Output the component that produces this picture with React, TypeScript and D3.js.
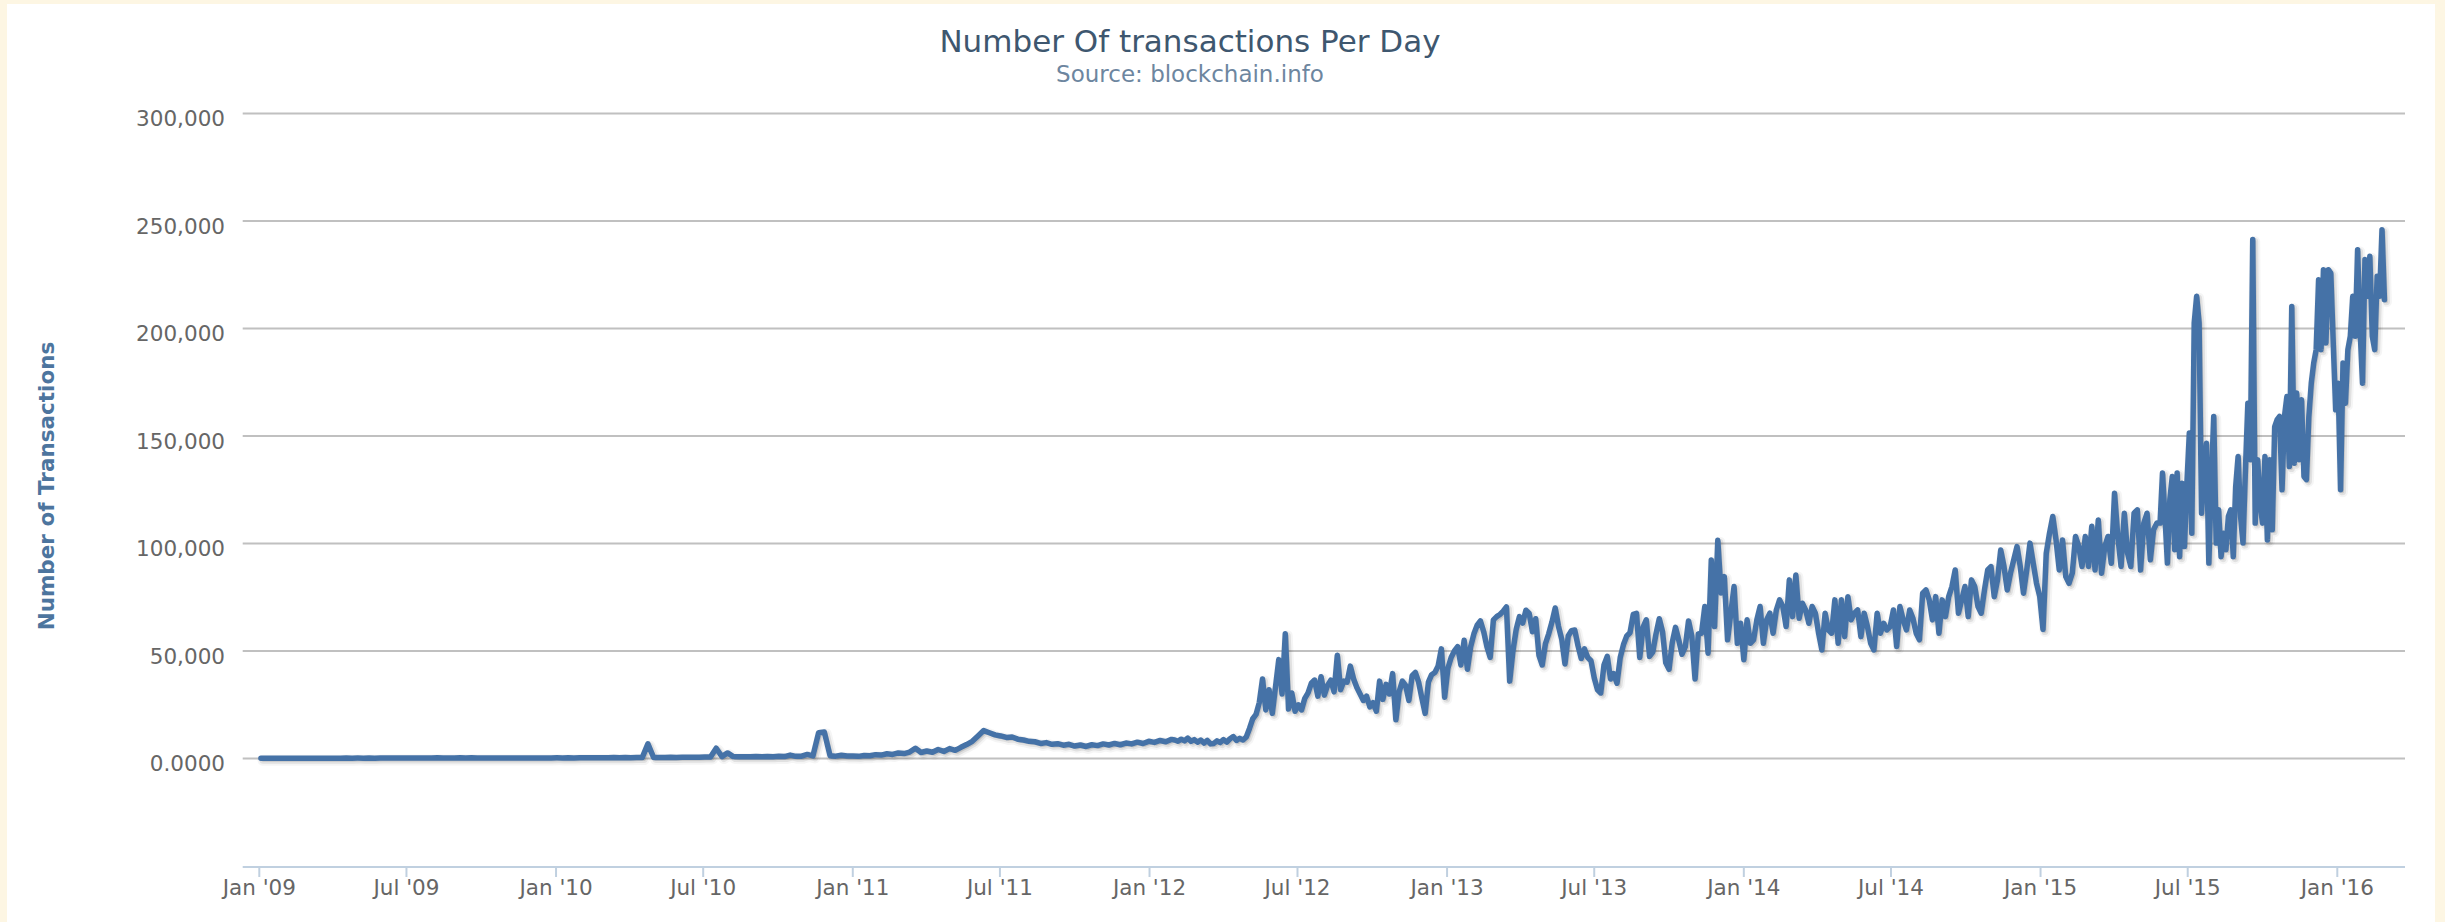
import * as d3 from 'd3';

// weekly readings, first point 3 Jan 2009
const tx2009to2010 = [
  100, 130, 110, 150, 120, 140, 110, 160, 130, 150, 120, 170, 140, 180, 150, 200,
  170, 190, 160, 210, 180, 230, 200, 250, 210, 240, 220, 260, 230, 280, 240, 300,
  260, 290, 250, 310, 270, 300, 260, 280, 250, 270, 240, 260, 230, 250, 240, 270,
  250, 280, 260, 290,
  300, 280, 320, 290, 350, 330, 380, 340, 400, 360, 420, 380, 450, 410, 470, 430,
  6800, 480, 520, 470, 550, 500, 580, 540, 620, 580, 650, 700, 4800, 900, 2600, 900,
  800, 850, 780, 900, 820, 950, 860, 1000, 900, 1600, 1000, 1100, 1900, 1200, 12000, 12300,
  1300, 1100, 1500, 1200,
];

// weekly readings, first point 1 Jan 2011
const tx2011 = [
  1200, 1000, 1400, 1300, 1800, 1600, 2200, 1900, 2600, 2300, 3000, 4800, 2800, 3500, 2900, 4200,
  3300, 4600, 3800, 5200, 6500, 8000, 10500, 13000, 12000, 11000, 10500, 9800, 10000, 9000, 8600, 8000,
  7800, 7000, 7400, 6600, 6900, 6200, 6600, 5800, 6300, 5600, 6400, 6000, 6800, 6300, 7000, 6400,
  7200, 6800, 7600, 7000, 8000, 7500, 8400, 7800, 8900,
];

// every 4 days, first point 1 Feb 2012
const tx2012 = [
  8600, 8000, 9000, 8200, 9500, 8000, 8800, 7600, 8600, 7200, 8400, 6800, 7000, 8200, 7400, 8800,
  7600, 9200, 10200, 8400, 9400, 8600, 10000, 14000, 18500, 20500, 26000, 37000, 22600, 32000, 21000, 33500,
  46000, 30000, 58000, 23000, 30500, 22000, 25000, 22600, 28000, 30500, 35000, 36500, 29000, 38000, 29500, 34000,
  36500, 31000, 48000, 32000, 36000, 35500, 43000, 37000, 33000, 30000, 27000, 29000, 24000, 26000, 22000, 36000,
  27500, 34500, 30000, 39500, 18000, 31000, 36000, 34000, 27000, 38500, 40000, 35500, 28000, 21000, 35500, 39000,
  40000, 43000, 51000, 28500,
];

// every 4 days, first point 2 Jan 2013
const tx2013 = [
  42000, 47000, 50000, 52000, 43500, 55000, 41500, 52000, 58000, 62000, 64000, 59000, 52000, 47000, 64500, 66000,
  67000, 68500, 70500, 36000, 50000, 60000, 66000, 63000, 69000, 67500, 59000, 65000, 48000, 43500, 53500, 58000,
  63500, 70000, 61500, 55500, 44000, 57000, 59500, 59800, 52500, 46500, 51000, 47000, 45500, 37500, 32000, 30500,
  43500, 47500, 37000, 39500, 35000, 47000, 53000, 57000, 58500, 67000, 67500, 47000, 61000, 64500, 47500, 49500,
  58000, 65000, 59000, 44500, 41500, 54000, 61000, 55000, 48500, 52000, 64000, 57000, 37000, 58000, 58300, 70700,
  49000, 92400, 61400, 101500, 77000, 84600, 55200, 67600, 80000, 53600, 62900,
];

// every 4 days, first point 1 Jan 2014
const tx2014 = [
  45900, 64500, 53600, 55200, 64500, 70700, 53600, 64500, 67600, 58300, 69100, 73800, 70700, 61400, 83100, 66000,
  85400, 65200, 72200, 69100, 62900, 70700, 67600, 58300, 50500, 67600, 59800, 58300, 73800, 53600, 73800, 56700,
  75300, 64500, 67600, 69100, 56700, 67600, 61400, 53600, 50500, 67600, 58300, 62900, 59800, 61400, 69100, 52100,
  70700, 64500, 59800, 69100, 65200, 58300, 55200, 76900, 78400, 73800, 64500, 75300, 58300, 73800, 66000, 75300,
  80000, 87700, 67600, 73800, 80000, 66000, 83100, 80000, 70700, 67600, 78400, 87700, 89300, 75300, 83100, 97000,
  89300, 78400, 86200, 92400, 98600, 89300, 76900, 87700, 100200, 90800, 81500,
];

// every 4 days, first point 31 Dec 2014
const tx2015a = [
  75300, 60000, 95500, 104800, 112600, 101700, 87700, 101700, 84600, 81500, 86200, 103300, 98600, 89300, 103300, 89300,
  108000, 87700, 111000, 86200, 98600, 103300, 90800, 123400, 103300, 89300, 114100, 95500, 89300, 114100, 115700, 87700,
  109500, 114100, 92400, 106400, 109500,
];

// every 3 days, first point 28 May 2015
const tx2015b = [
  109500, 132800, 112600, 90900, 120300, 131200, 97100, 132800, 93900, 128100, 98600, 128100, 151400, 104800, 202600, 215000,
  202600, 114100, 134300, 146700, 90900, 128100, 159100, 100200, 115700, 93900, 104800, 97100, 112600, 115700, 93900, 126500,
  140500, 112600, 100200, 134300, 165300, 139000, 241400, 109500, 139000, 118800, 109500, 140500, 101700, 139000, 106400, 154400,
  157600, 159100, 125000, 159100, 168400, 135800, 210300, 137400, 170000, 139000, 166900, 131200, 129700, 159100, 174600, 184000,
  190200, 222700, 190200, 227400, 193300, 227400, 225800, 193300, 162200, 174600, 125000, 184000, 165300, 190200, 196400, 215000,
  196400, 236700, 199600, 174600, 232100, 215000, 233600, 196400, 190200, 224300, 215000, 246000, 213400,
];

const segments = [
  { start: new Date(2009, 0, 3), step: 7, values: tx2009to2010 },
  { start: new Date(2011, 0, 1), step: 7, values: tx2011 },
  { start: new Date(2012, 1, 1), step: 4, values: tx2012 },
  { start: new Date(2013, 0, 2), step: 4, values: tx2013 },
  { start: new Date(2014, 0, 1), step: 4, values: tx2014 },
  { start: new Date(2014, 11, 31), step: 4, values: tx2015a },
  { start: new Date(2015, 4, 28), step: 3, values: tx2015b },
];

const yTicks = [0, 50000, 100000, 150000, 200000, 250000, 300000];
const yTickLabels = ['0.0000', '50,000', '100,000', '150,000', '200,000', '250,000', '300,000'];

type Pt = { date: Date; value: number };

const points: Pt[] = segments.flatMap((s) =>
  s.values.map((v, i) => ({ date: d3.timeDay.offset(s.start, i * s.step), value: v }))
);

const App = () => {
  const width = 2445;
  const height = 922;
  const plotLeft = 242.7;
  const plotRight = 2405;
  const plotTop = 113.6;
  const plotBottom = 866;
  const font = '"DejaVu Sans", Verdana, sans-serif';

  const xScale = d3
    .scaleTime()
    .domain([new Date(2009, 0, 1), new Date(2016, 0, 1)])
    .range([259.3, 2337.3]);
  const yScale = d3.scaleLinear().domain([-50000, 300000]).range([plotBottom, plotTop]);

  const xTicks = d3.timeMonth.every(6)!.range(new Date(2009, 0, 1), new Date(2016, 0, 2));
  const fmt = d3.timeFormat("%b '%y");

  const line = d3
    .line<Pt>()
    .x((d) => xScale(d.date))
    .y((d) => yScale(d.value));
  const path = line(points) || '';

  return (
    <svg
      width={width}
      height={height}
      style={{ position: 'absolute', left: 0, top: 0, display: 'block' }}
      fontFamily={font}
    >
      <rect x={0} y={0} width={width} height={height} fill='#fdf6e3' />
      <rect x={7} y={4} width={2428} height={height - 4} fill='#ffffff' />

      <text x={1190} y={51.7} textAnchor='middle' fontSize={31} fill='#3E576F'>
        Number Of transactions Per Day
      </text>
      <text x={1190} y={81.7} textAnchor='middle' fontSize={23} fill='#6D869F'>
        Source: blockchain.info
      </text>

      {/* grid + y labels */}
      {yTicks.map((t, i) => (
        <g key={t}>
          <line
            x1={plotLeft}
            x2={plotRight}
            y1={yScale(t)}
            y2={yScale(t)}
            stroke='#C0C0C0'
            strokeWidth={2}
          />
          <text
            x={225}
            y={yScale(t) + 12.5}
            textAnchor='end'
            fontSize={21.5}
            fill='#666666'
          >
            {yTickLabels[i]}
          </text>
        </g>
      ))}

      <text
        transform={`translate(54, 486) rotate(-90)`}
        textAnchor='middle'
        fontSize={21.5}
        fontWeight='bold'
        fill='#4D759E'
      >
        Number of Transactions
      </text>

      {/* x axis */}
      <line x1={plotLeft} x2={plotRight} y1={plotBottom + 1} y2={plotBottom + 1} stroke='#C0D0E0' strokeWidth={2} />
      {xTicks.map((d) => (
        <g key={+d}>
          <line
            x1={xScale(d)}
            x2={xScale(d)}
            y1={plotBottom + 1}
            y2={plotBottom + 11}
            stroke='#C0D0E0'
            strokeWidth={2}
          />
          <text x={xScale(d)} y={895} textAnchor='middle' fontSize={21.5} fill='#666666'>
            {fmt(d)}
          </text>
        </g>
      ))}

      {/* series shadow, then series */}
      {[1, 2, 3].map((i) => (
        <path
          key={i}
          d={path}
          transform='translate(2,2)'
          fill='none'
          stroke='#000'
          strokeOpacity={0.04 * i}
          strokeWidth={11 - 4 * (i - 1)}
          strokeLinejoin='round'
          strokeLinecap='round'
        />
      ))}
      <path
        d={path}
        fill='none'
        stroke='#4572A7'
        strokeWidth={5.5}
        strokeLinejoin='round'
        strokeLinecap='round'
      />
    </svg>
  );
};

export default App;
